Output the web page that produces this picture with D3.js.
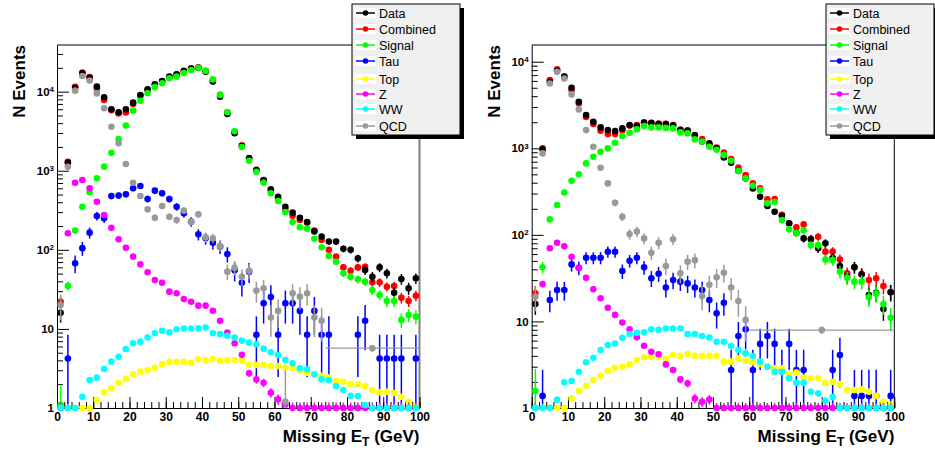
<!DOCTYPE html>
<html><head><meta charset="utf-8">
<script src="https://cdn.jsdelivr.net/npm/d3@7/dist/d3.min.js"></script>
<style>
body{margin:0;background:#fff}
svg{display:block}
text{font-family:"Liberation Sans",Arial,Helvetica,sans-serif}
</style>
</head><body>
<svg id="c" width="935" height="452"></svg>
<script>
// ---------------- DATA ----------------
const binCenters = [1,3,5,7,9,11,13,15,17,19,21,23,25,27,29,31,33,35,37,39,41,43,45,47,49,
                    51,53,55,57,59,61,63,65,67,69,71,73,75,77,79,81,83,85,87,89,91,93,95,97,99];
const seriesNames = ["Data","Combined","Signal","Tau","Top","Z","WW","QCD"];
const seriesColors = ["#000000","#ff0000","#00ff00","#0000ff","#ffff00","#ff00ff","#00ffff","#999999"];
const xTickValues = [0,10,20,30,40,50,60,70,80,90,100];
const xTickLabels = ["0","10","20","30","40","50","60","70","80","90","100"];
const yTickValues = [1,10,100,1000,10000];
const yTickLabels = [["1",""],["10",""],["10","2"],["10","3"],["10","4"]];

// Left panel
const leftData = [16,1265,11200,17100,15000,11600,8500,5990,5480,5990,
  7260,9080,10700,12400,13650,15500,16600,18300,19600,20100,
  17800,13400,8650,5220,2980,2055,1437,1020,764,582,
  470,351,295,255,225,171,147,127,127,103,
  100,78,55.6,45.7,60,50.5,28.7,42.8,32.6,43.7];
const leftCombined = [22,1300,11500,17500,15300,11000,7850,5800,5300,5450,
  7000,8900,10500,12200,13500,15300,16500,18100,19600,20300,
  18300,14000,9100,5500,3100,2100,1450,1030,750,560,
  450,319,270,238,220,175,133,100,82,60,
  54.5,60,61,38.8,38.8,34.2,34.9,24.8,22.5,26.3];
const leftSignal = [1.1,35,175,351,534,804,1127,1690,2520,3720,
  5750,7690,9540,11400,12760,14800,15500,17200,18800,20100,
  18300,14300,9100,5500,3160,2000,1340,973,706,519,
  415,301,225,193,185,138,108,83.6,70.8,50.5,
  45.7,42.4,39.5,31,26.8,22.5,22.5,13,15,14.3];
const leftTau = [null,4.22,67.6,105,165,268,251,480,485,504,
  600,642,440,560,519,440,351,290,227,157,
  140,123,110,88.5,55,38.4,53,8.44,21.1,25.3,
  8.44,21.1,21.1,16.9,8.44,16.9,8.44,8.44,null,null,
  null,8.44,12.7,null,4.22,4.22,4.22,4.22,null,4.22];
const leftTop = [1,1,1,1,1,1.26,1.58,1.77,2.09,2.33,
  2.67,2.88,3.02,3.23,3.57,3.85,3.85,3.85,3.74,4.13,
  4.0,4.15,3.96,4.0,4.05,4.0,3.5,3.5,3.5,3.4,
  3.4,3.23,3.2,2.97,2.8,2.67,2.56,2.42,2.19,2.15,
  2.0,2.0,1.9,1.69,1.58,1.6,1.55,1.39,1.2,1.05];
const leftZ = [1,162,706,764,600,406,276,190,136,106,
  82,65.6,52,41.6,38.4,29.6,28.2,23.9,22.1,19.7,
  19.7,17,12.7,9.0,6.6,4.7,2.75,2.3,2.09,1.56,
  1.29,1.1,1,1,1,1,1,1,1,1,
  1,1,1,1,1,1,1,1,1,1];
const leftWW = [1,1,1,1.39,2.26,2.42,3.11,3.86,4.45,5.57,
  6.6,6.9,7.8,8.8,9.5,9.06,9.9,10.1,10.1,10.2,
  10.4,8.8,8.6,8.2,7.8,7.1,6.7,6.4,5.6,5.06,
  4.68,4.05,3.67,3.18,3.08,2.67,2.3,2.25,1.9,1.69,
  1.43,1.42,1.09,1,1,1,1,1,1,1];
const leftQCD = [20,1120,10300,15800,13800,9500,6160,3600,2220,1217,
  706,480,325,255,358,262,238,313,227,281,
  144,140,112,53,59.5,45.7,54.5,30.5,32.6,13.9,
  16.9,1.2,28.2,25.6,28.2,13.9,12.7,null,null,null,
  null,null,null,null,null,null,null,null,null,null];
const leftQCDWideBin = [74,100,5.7];           // [low edge, high edge, value]
const leftErrWeights = [1,0.6,0.56,4.22,0.01,0.03,0.01,2.6];

// Right panel
const rightData = [15.9,971,5860,7850,6700,5000,3440,2416,2023,1743,
  1622,1581,1698,1853,1804,1968,1968,1905,1905,1840,
  1640,1600,1420,1200,1140,1000,785,680,546,449,
  344,275,215,185,166,136,105,91,89,70,
  80,54,43.7,32.8,42.2,35,20.2,21.4,13.9,21.7];
const rightCombined = [21.1,1000,6130,8150,6800,4700,3300,2300,1905,1592,
  1459,1459,1620,1830,1850,1990,1950,1930,1920,1850,
  1640,1600,1400,1280,1100,1020,895,750,600,490,
  393,344,257,260,170,135,122,132,90,95,
  64,64,52,35.9,42.2,35,30,31.5,25.6,21.7];
const rightSignal = [1.57,42.2,151,221,309,421,500,669,798,912,
  997,1157,1384,1511,1652,1804,1743,1743,1720,1698,
  1525,1486,1267,1200,1040,960,834,718,546,449,
  369,329,231,240,148,116,105,113,76,76,
  52,51,37.5,32,28.8,28.8,19,21,15.9,11];
const rightTau = [null,1.38,17.7,23,23,45.6,41.7,54.4,54.4,54.4,
  63.8,63.8,38.2,50.2,54.4,42.2,31.5,35.6,24.7,30,
  28.8,27.5,24.7,23,17.7,12.4,16.4,2.75,6.8,8.1,
  2.75,5.5,6.8,5.5,2.75,5.5,2.75,2.75,null,null,
  null,2.75,4.1,null,1.38,1.38,1.38,1.38,null,1.38];
const rightTop = [1,1,1,1,1,1.29,1.57,1.8,2.1,2.36,
  2.67,2.92,3.0,3.19,3.58,3.85,3.9,3.9,3.7,4.09,
  4.0,4.2,4.0,4.0,4.0,4.0,3.43,3.43,3.75,3.52,
  3.37,3.22,3.0,2.87,2.87,2.47,2.56,2.24,2.2,2.2,
  1.96,2.01,1.89,1.61,1.61,1.64,1.54,1.38,1.18,1.08];
const rightZ = [1,27,70,81,74,55.9,41.7,32,23.5,18.5,
  14.4,11.9,9.7,8.1,6.55,5.24,4.47,4.17,3.19,2.75,
  2.14,1.93,1.29,1.18,1.25,1,1,1,1,1,
  1,1,1,1,1,1,1,1,1,1,
  1,1,1,1,1,1,1,1,1,1];
const rightWW = [1,1,1,1.24,1.98,2.05,2.62,3.37,3.81,4.67,
  5.34,5.57,6.48,7.15,7.4,7.5,8.1,8.0,8.3,8.3,
  8.3,7.15,7.15,6.8,6.5,5.83,5.83,5.2,4.67,4.27,
  3.98,3.43,3.0,2.62,2.6,2.2,1.96,1.96,1.54,1.48,
  1.21,1.34,1,1,1,1,1,1,1,1];
const rightQCD = [19.3,873,5610,7640,6410,4190,2810,1622,1040,596,
  393,235,162,102,109,91,62,81,43.7,89,
  36,49,51,19.7,26.5,32.3,36.5,24.7,17.2,10.4,
  null,null,null,null,null,null,null,null,null,null,
  null,null,null,null,null,null,null,null,null,null];
const rightQCDWideBin = [60,100,7.95];
const rightErrWeights = [1,1,1,1.38,0.01,0.02,0.01,2];

// ---------------- LAYOUT ----------------
const panels = [
  {x0:57, x1:419.5, yTop:45, yBot:408, yMax:Math.pow(10,4.59), rightColor:"#808080", rightWidth:2,
   yTitleX:25, legend:{x:352, y:4, w:108, h:131},
   series:[leftData,leftCombined,leftSignal,leftTau,leftTop,leftZ,leftWW,leftQCD],
   wide:leftQCDWideBin, weights:leftErrWeights},
  {x0:531.7, x1:894.3, yTop:45, yBot:408, yMax:Math.pow(10,4.193), rightColor:"#000", rightWidth:1,
   yTitleX:500, legend:{x:826, y:4, w:108, h:131},
   series:[rightData,rightCombined,rightSignal,rightTau,rightTop,rightZ,rightWW,rightQCD],
   wide:rightQCDWideBin, weights:rightErrWeights}
];
const legendRowOffsets = [9,25,41,57,75,90,105,122];
const drawOrder = [1,0,2,3,4,5,6,7];
const FONT = '"Liberation Sans",Arial,Helvetica,sans-serif';

const svg = d3.select("#c");

panels.forEach(p => {
  const x = d3.scaleLinear().domain([0,100]).range([p.x0,p.x1]);
  const y = d3.scaleLog().domain([1,p.yMax]).range([p.yBot,p.yTop]);
  const g = svg.append("g");

  // frame top / right
  g.append("line").attr("x1",p.x0).attr("x2",p.x1).attr("y1",p.yTop).attr("y2",p.yTop)
    .attr("stroke","#000").attr("stroke-width",1);
  g.append("line").attr("x1",p.x1).attr("x2",p.x1).attr("y1",p.yTop).attr("y2",p.yBot)
    .attr("stroke",p.rightColor).attr("stroke-width",p.rightWidth);

  // x axis minor ticks
  g.append("g").attr("transform",`translate(0,${p.yBot})`)
    .call(d3.axisBottom(x).tickValues(x.ticks(50)).tickSize(-6).tickSizeOuter(0).tickFormat(""))
    .call(s=>s.select(".domain").remove())
    .call(s=>s.selectAll("line").attr("stroke","#000"));
  // x axis major
  g.append("g").attr("transform",`translate(0,${p.yBot})`)
    .call(d3.axisBottom(x).tickValues(xTickValues).tickSize(-11).tickSizeOuter(0).tickPadding(4)
      .tickFormat((d,i)=>xTickLabels[i]))
    .attr("font-size",12).attr("font-family",FONT).attr("font-weight","bold")
    .call(s=>s.selectAll("line,path").attr("stroke","#000"))
    .call(s=>s.selectAll("text").attr("fill","#000"));

  // y axis minor ticks
  const minors = y.ticks().filter(v => !yTickValues.includes(v));
  g.append("g").attr("transform",`translate(${p.x0},0)`)
    .call(d3.axisLeft(y).tickValues(minors).tickSize(-6).tickSizeOuter(0).tickFormat(""))
    .call(s=>s.select(".domain").remove())
    .call(s=>s.selectAll("line").attr("stroke","#000"));
  // y axis major
  const majors = yTickValues.filter(v => v <= p.yMax);
  const ya = g.append("g").attr("transform",`translate(${p.x0},0)`)
    .call(d3.axisLeft(y).tickValues(majors).tickSize(-12).tickSizeOuter(0).tickPadding(3).tickFormat(""))
    .attr("font-size",11.5).attr("font-family",FONT).attr("font-weight","bold");
  ya.selectAll("line,path").attr("stroke","#000");
  ya.selectAll(".tick text").each(function(d){
    const idx = yTickValues.indexOf(d);
    const lab = yTickLabels[idx];
    const t = d3.select(this).attr("fill","#000");
    t.text(null);
    t.append("tspan").text(lab[0]);
    if (lab[1]) t.append("tspan").attr("dy","-0.45em").attr("font-size",8).text(lab[1]);
  });

  // series
  drawOrder.forEach(si => {
    const arr = p.series[si], w = p.weights[si], col = seriesColors[si];
    const pts = binCenters.map((c,i)=>({c:c, v:arr[i]})).filter(d => d.v != null);
    const sg = g.append("g");
    sg.selectAll("line").data(pts).join("line")
      .attr("x1",d=>x(d.c)).attr("x2",d=>x(d.c))
      .attr("y1",d=>y(Math.max(1, d.v - Math.sqrt(d.v*w))))
      .attr("y2",d=>y(Math.min(p.yMax, d.v + Math.sqrt(d.v*w))))
      .attr("stroke",col).attr("stroke-width",1.5);
    if (si === 7) {
      const wb = p.wide;
      const cx = (wb[0]+wb[1])/2;
      sg.append("line").attr("x1",x(wb[0])).attr("x2",x(wb[1])).attr("y1",y(wb[2])).attr("y2",y(wb[2]))
        .attr("stroke",col).attr("stroke-width",1.2);
      sg.append("line").attr("x1",x(cx)).attr("x2",x(cx))
        .attr("y1",y(wb[2]*0.9)).attr("y2",y(wb[2]*1.1)).attr("stroke",col).attr("stroke-width",1.5);
      sg.append("circle").attr("cx",x(cx)).attr("cy",y(wb[2])).attr("r",3.3).attr("fill",col);
    }
    sg.selectAll("circle.m").data(pts).join("circle").attr("class","m")
      .attr("cx",d=>x(d.c)).attr("cy",d=>y(d.v)).attr("r",3.3).attr("fill",col);
  });

  // axis titles
  const xt = g.append("text").attr("x",p.x1).attr("y",442).attr("text-anchor","end")
    .attr("font-size",17).attr("font-weight","bold").attr("fill","#000");
  xt.append("tspan").text("Missing E");
  xt.append("tspan").attr("font-size",12).attr("dy",4).text("T");
  xt.append("tspan").attr("dy",-4).text(" (GeV)");
  g.append("text").attr("transform",`translate(${p.yTitleX},${p.yTop}) rotate(-90)`)
    .attr("text-anchor","end").attr("font-size",17).attr("font-weight","bold").attr("fill","#000")
    .text("N Events");

  // legend
  const L = p.legend;
  g.append("rect").attr("x",L.x+4).attr("y",L.y+4).attr("width",L.w).attr("height",L.h).attr("fill","#000");
  g.append("rect").attr("x",L.x).attr("y",L.y).attr("width",L.w).attr("height",L.h)
    .attr("fill","#f0f0f0").attr("stroke","#000").attr("stroke-width",1);
  seriesNames.forEach((name,i) => {
    const ry = L.y + legendRowOffsets[i];
    g.append("rect").attr("x",L.x+3).attr("y",ry-5).attr("width",21).attr("height",10).attr("fill","#fff");
    g.append("line").attr("x1",L.x+4).attr("x2",L.x+23).attr("y1",ry).attr("y2",ry)
      .attr("stroke",seriesColors[i]).attr("stroke-width",1.5);
    g.append("circle").attr("cx",L.x+13.5).attr("cy",ry).attr("r",2.8).attr("fill",seriesColors[i]);
    g.append("text").attr("x",L.x+27).attr("y",ry+4.5).attr("font-size",12.5).attr("fill","#000").text(name);
  });
});
</script>
</body></html>
